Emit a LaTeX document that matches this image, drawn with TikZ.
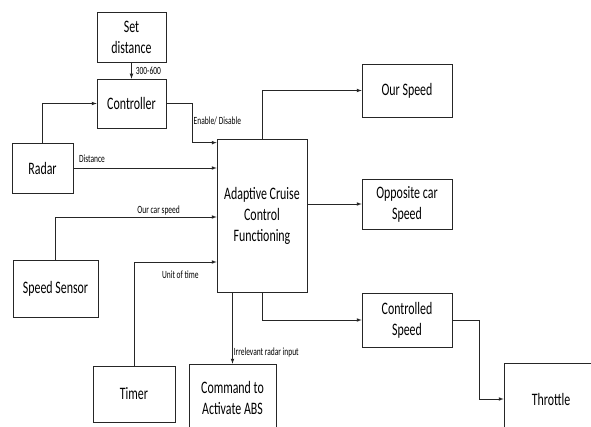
\documentclass[tikz,border=0pt]{standalone}
\usepackage{fontspec}
\setmainfont{Carlito}[FakeStretch=0.68]
\usepackage{tikz}
\usetikzlibrary{arrows}
\usetikzlibrary{calc}
\usetikzlibrary{positioning}

\begin{document}
\begin{tikzpicture}[x=1pt, y=-1pt, >=latex,
        block/.style={draw=black!85, line width=0.7pt, fill=white, align=center, font=\fontsize{17.5}{21}\selectfont, inner sep=0pt},
        lbl/.style={font=\fontsize{11}{13}\selectfont, inner sep=1pt},
        conn/.style={->, draw=black!85, line width=0.7pt}]
        \fill[white] (0,0) rectangle (591,427);
        \useasboundingbox (0,0) rectangle (591,427);

        \node[block, minimum width=69, minimum height=50] (setd) at (131.5,37) {Set\\distance};
        \node[block, minimum width=69, minimum height=49] (ctrl) at (131.5,103.5) {Controller};
        \node[block, minimum width=61, minimum height=50] (radar) at (42.5,168) {Radar};
        \node[block, minimum width=85, minimum height=57] (spd) at (55.5,288.5) {Speed Sensor};
        \node[block, minimum width=82, minimum height=56] (timer) at (134,394) {Timer};
        \node[block, minimum width=87, minimum height=68] (abs) at (232.5,398) {Command to\\Activate ABS};

        \node[block, minimum width=90, minimum height=153] (acc) at (262,215.5) {Adaptive Cruise\\Control\\Functioning};

        \node[block, minimum width=90, minimum height=53] (ours) at (407,90.5) {Our Speed};
        \node[block, minimum width=90, minimum height=50] (opp) at (407,204) {Opposite car\\Speed};
        \node[block, minimum width=90, minimum height=54] (cspd) at (407,320) {Controlled\\Speed};
        \node[block, minimum width=94, minimum height=72] (thr) at (551,399) {Throttle};

        % inputs
        \draw[conn] (setd) -- (ctrl) node[lbl, midway, right, xshift=3pt] {300-600};
        \draw[conn] (radar.north) |- (ctrl.west);
        \draw[conn] (radar.east) -- (radar.east -| acc.west) node[lbl, pos=0.03, above right, yshift=4pt] {Distance};
        \draw[conn] (ctrl.east) -- ++(26,0) |- ([yshift=-4pt]acc.north west) node[lbl, pos=0.22, right] {Enable/ Disable};
        \draw[conn] (spd.north) |- ([yshift=-1.5pt]acc.west) node[lbl, pos=0.82, above] {Our car speed};
        \draw[conn] (timer.north) |- ([yshift=-46.5pt]acc.west) node[lbl, pos=0.78, below, yshift=-8pt] {Unit of time};

        % outputs
        \draw[conn] (acc.north) |- (ours.west);
        \draw[conn] (acc.east |- opp.west) -- (opp.west);
        \draw[conn] (acc.south) |- (cspd.west);
        \draw[conn] (cspd.east) -- ++(27,0) |- (thr.west);
        \draw[conn] (acc.south -| abs.north) -- (abs.north) node[lbl, pos=0.85, right] {Irrelevant radar input};
\end{tikzpicture}
\end{document}
